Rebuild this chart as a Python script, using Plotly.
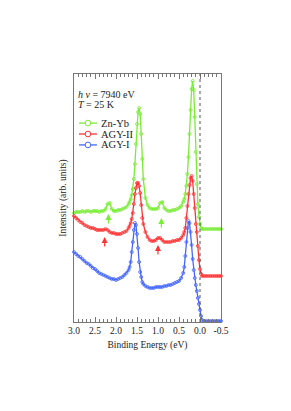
import plotly.graph_objects as go

binding_energy = [3.00, 2.95, 2.90, 2.85, 2.80, 2.75, 2.70, 2.65, 2.60, 2.55, 2.50, 2.45, 2.40, 2.35,
                  2.30, 2.25, 2.20, 2.15, 2.10, 2.05, 2.00, 1.95, 1.90, 1.85, 1.80, 1.75, 1.70,
                  1.675, 1.65, 1.625, 1.60, 1.575, 1.55, 1.525, 1.50, 1.475, 1.45, 1.425, 1.40, 1.375, 1.35,
                  1.30, 1.25, 1.20, 1.15, 1.10, 1.05, 1.00, 0.95, 0.90, 0.85, 0.80, 0.75, 0.70, 0.65,
                  0.60, 0.55, 0.50, 0.45, 0.40,
                  0.375, 0.35, 0.325, 0.30, 0.275, 0.25, 0.225, 0.20, 0.175, 0.15, 0.125, 0.10, 0.075,
                  0.05, 0.025, 0.00, -0.025, -0.05,
                  -0.10, -0.15, -0.20, -0.25, -0.30, -0.35, -0.40, -0.45, -0.50]

zn_yb = [109, 110, 110, 110, 111, 110, 111, 111, 110, 111, 111, 111, 110, 111,
         111, 113, 118, 119, 113, 111, 111, 112, 112, 113, 114, 115, 118,
         120, 123, 127, 133, 143, 158, 178, 198, 210, 214, 208, 188, 163, 143,
         124, 117, 114, 113, 113, 113, 114, 119, 120, 114, 112, 111, 111, 112,
         112, 113, 114, 116, 120,
         123, 128, 136, 148, 165, 188, 212, 233, 241, 232, 205, 170, 138,
         118, 105, 98, 94, 93,
         93, 93, 93, 93, 93, 93, 93, 93, 93]

agy_ii = [106, 104, 102, 100, 99, 97, 96, 95, 94, 94, 93, 92, 92, 92,
          92, 93, 92, 90, 89, 89, 88, 88, 88, 89, 90, 91, 94,
          96, 99, 103, 109, 118, 128, 134, 139, 139, 136, 129, 117, 104, 98,
          90, 85, 82, 81, 81, 82, 84, 84, 82, 80, 80, 80, 80, 81,
          81, 82, 82, 84, 87,
          90, 94, 104, 116, 128, 137, 144, 146, 141, 128, 114, 98, 90,
          76, 62, 53, 48, 46,
          46, 46, 46, 46, 46, 46, 46, 46, 46]

agy_i = [70, 68, 66, 65, 63, 61, 59, 58, 56, 54, 53, 51, 49, 48,
         47, 46, 45, 44, 43, 43, 42, 43, 44, 45, 47, 49, 52,
         55, 60, 70, 80, 92, 99, 97, 88, 74, 60, 50, 45, 40, 38,
         36, 35, 34, 34, 34, 35, 35, 35, 35, 36, 36, 37, 37, 38,
         39, 40, 41, 44, 49,
         55, 66, 80, 94, 101, 99, 90, 77, 63, 52, 44, 37, 31,
         24, 18, 12, 6, 2,
         1, 1, 1, 1, 1, 1, 1, 1, 1]

series_names = ["Zn-Yb", "AGY-II", "AGY-I"]
series_values = [zn_yb, agy_ii, agy_i]
series_colors = ["#77ee33", "#ff3333", "#4466ff"]

tick_values = [3.0, 2.5, 2.0, 1.5, 1.0, 0.5, 0.0, -0.5]
tick_labels = ["3.0", "2.5", "2.0", "1.5", "1.0", "0.5", "0.0", "-0.5"]

arrow_be = [2.18, 0.92, 2.27, 1.00]
arrow_head = [108, 104, 85, 77]
arrow_colors = ["#77ee33", "#77ee33", "#ff3333", "#ff3333"]

FONT = "Liberation Serif"

fig = go.Figure()
for name, vals, col in zip(series_names, series_values, series_colors):
    fig.add_trace(go.Scatter(
        x=binding_energy, y=vals, name=name, mode="lines+markers",
        line=dict(color=col, width=1.3),
        marker=dict(symbol="circle-open", size=3, color=col, line=dict(width=0.8, color=col)),
        cliponaxis=False, showlegend=False,
    ))

shapes = [dict(type="line", xref="x", yref="paper", x0=0, x1=0, y0=0, y1=1,
               line=dict(color="#555555", width=1, dash="dot"))]

annotations = []
# manual legend
rows_y = [0.802, 0.758, 0.714]
for name, col, yy in zip(series_names, series_colors, rows_y):
    shapes.append(dict(type="line", xref="paper", yref="paper", x0=0.034, x1=0.156, y0=yy, y1=yy,
                       line=dict(color=col, width=1.3)))
    shapes.append(dict(type="circle", xref="paper", yref="paper",
                       x0=0.095 - 0.019, x1=0.095 + 0.019, y0=yy - 0.0115, y1=yy + 0.0115,
                       line=dict(color=col, width=1), fillcolor="white"))
    annotations.append(dict(xref="paper", yref="paper", x=0.17, y=yy, text=name, showarrow=False,
                            xanchor="left", yanchor="middle", font=dict(family=FONT, size=10.5, color="#222")))

annotations.append(dict(xref="paper", yref="paper", x=0.015, y=0.919,
                        text="<i>h ν</i> = 7940 eV", showarrow=False, xanchor="left", yanchor="middle",
                        font=dict(family=FONT, size=10, color="#222")))
annotations.append(dict(xref="paper", yref="paper", x=0.015, y=0.877,
                        text="<i>T</i> = 25 K", showarrow=False, xanchor="left", yanchor="middle",
                        font=dict(family=FONT, size=10, color="#222")))

for xb, yh, col in zip(arrow_be, arrow_head, arrow_colors):
    annotations.append(dict(x=xb, y=yh, xref="x", yref="y", text="", showarrow=True,
                            ax=0, ay=11, arrowhead=2, arrowsize=1, arrowwidth=1.2,
                            arrowcolor=col, standoff=0))

fig.update_layout(
    width=291, height=411,
    margin=dict(l=66, r=78, t=66, b=97),
    paper_bgcolor="white", plot_bgcolor="white",
    font=dict(family=FONT, size=9, color="#222"),
    shapes=shapes, annotations=annotations,
    xaxis=dict(range=[3.0, -0.5], tickvals=tick_values, ticktext=tick_labels,
               ticks="inside", ticklen=5, tickcolor="#777", tickwidth=1,
               minor=dict(dtick=0.1, ticks="inside", ticklen=3, tickcolor="#777", tickwidth=1),
               showline=True, linecolor="#777", linewidth=1, mirror="allticks",
               showgrid=False, zeroline=False,
               tickfont=dict(family=FONT, size=9.5, color="#222"),
               title=dict(text="Binding Energy (eV)", font=dict(family=FONT, size=9.5, color="#222"), standoff=5),
               automargin=False),
    yaxis=dict(range=[0, 248], showticklabels=False, ticks="",
               showline=True, linecolor="#777", linewidth=1, mirror=True,
               showgrid=False, zeroline=False,
               title=dict(text="Intensity (arb. units)", font=dict(family=FONT, size=9.5, color="#222"), standoff=4),
               automargin=False),
)

fig.write_html("out.html")
